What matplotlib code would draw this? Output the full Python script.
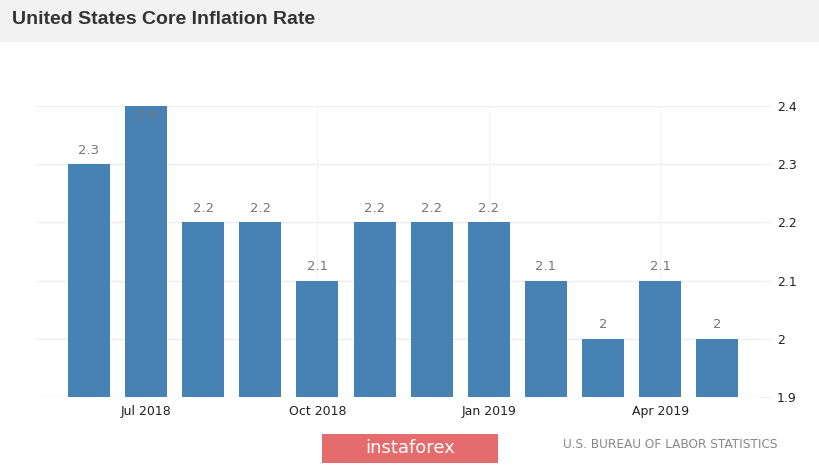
import matplotlib
matplotlib.use("Agg")
import matplotlib.pyplot as plt
from matplotlib.patches import Rectangle

months = ["Jun 2018", "Jul 2018", "Aug 2018", "Sep 2018", "Oct 2018", "Nov 2018",
          "Dec 2018", "Jan 2019", "Feb 2019", "Mar 2019", "Apr 2019", "May 2019"]
values = [2.3, 2.4, 2.2, 2.2, 2.1, 2.2, 2.2, 2.2, 2.1, 2.0, 2.1, 2.0]
value_labels = ["2.3", "2.4", "2.2", "2.2", "2.1", "2.2", "2.2", "2.2", "2.1", "2", "2.1", "2"]
xtick_idx = [1, 4, 7, 10]
xtick_labels = ["Jul 2018", "Oct 2018", "Jan 2019", "Apr 2019"]
yticks = [1.9, 2.0, 2.1, 2.2, 2.3, 2.4]
ytick_labels = ["1.9", "2", "2.1", "2.2", "2.3", "2.4"]

W, H = 820, 465
fig = plt.figure(figsize=(W / 100, H / 100), dpi=100)
fig.patch.set_facecolor("white")

# header band
fig.patches.append(Rectangle((0, 1 - 42 / H), 1, 42 / H, transform=fig.transFigure,
                             facecolor="#f2f2f2", edgecolor="none", zorder=0))
fig.text(12 / W, 1 - 20 / H, "United States Core Inflation Rate", fontsize=14,
         fontweight="bold", color="#333333", family=["Liberation Sans", "DejaVu Sans"],
         va="center", ha="left")

ax = fig.add_axes([36 / W, 1 - 397 / H, 724 / W, 291 / H])
x = list(range(len(values)))
ax.bar(x, values, width=0.735, color="#4682b4", zorder=3, bottom=0)
ax.set_xlim(-0.928, 11.75)
ax.set_ylim(1.9, 2.4)

for i, (v, lab) in enumerate(zip(values, value_labels)):
    if v >= 2.4:
        ax.annotate(lab, (i, v), xytext=(0, -7), textcoords="offset points",
                    ha="center", va="center", fontsize=9.5, color="#777777", zorder=4)
    else:
        ax.annotate(lab, (i, v), xytext=(0, 10), textcoords="offset points",
                    ha="center", va="center", fontsize=9.5, color="#777777", zorder=4)

ax.yaxis.tick_right()
ax.set_yticks(yticks)
ax.set_yticklabels(ytick_labels, fontsize=9, color="#222222")
ax.tick_params(axis="y", length=8, color="#eeeeee", pad=4)
ax.set_xticks(xtick_idx)
ax.set_xticklabels(xtick_labels, fontsize=9, color="#222222")
ax.tick_params(axis="x", length=0, pad=6)
ax.grid(axis="y", color="#eeeeee", linewidth=1, zorder=0)
ax.grid(axis="x", color="#f5f5f5", linewidth=1, zorder=0)
for s in ax.spines.values():
    s.set_visible(False)

# footer
fig.patches.append(Rectangle((322 / W, 1 - 463 / H), 176 / W, 29 / H, transform=fig.transFigure,
                             facecolor="#e46c6c", edgecolor="none", zorder=0))
fig.text(410 / W, 1 - 448 / H, "instaforex", fontsize=13, color="white",
         ha="center", va="center")
fig.text(778 / W, 1 - 444 / H, "U.S. BUREAU OF LABOR STATISTICS", fontsize=8.7,
         color="#888888", ha="right", va="center")

fig.savefig("out.png", dpi=100)
